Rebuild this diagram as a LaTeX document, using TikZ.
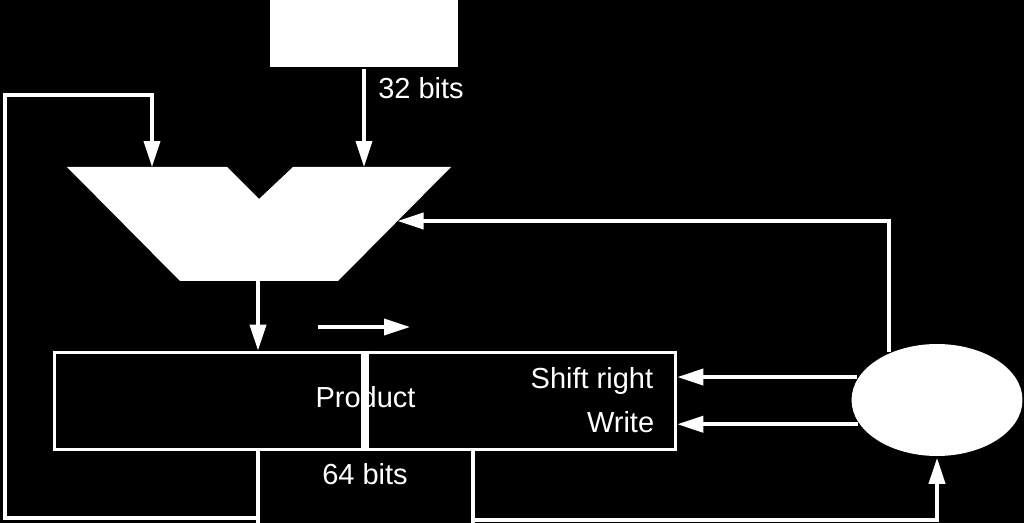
\documentclass[tikz,border=0pt]{standalone}
\usepackage{fontspec}
\setmainfont{Liberation Sans}
\usetikzlibrary{arrows.meta,shapes.geometric}

\tikzset{
	tip/.style={-{Triangle[length=0.52cm,width=0.32cm]}},
	lbl/.style={text=white, inner sep=0, font=\fontsize{16.5}{20}\selectfont},
}

\begin{document}
\begin{tikzpicture}[x=0.02cm, y=-0.02cm, line width=2.1pt, draw=white]
	\useasboundingbox (0, 0) rectangle (1024, 523);
	\fill[black] (0, 0) rectangle (1024, 523);

	\node[fill=white, minimum width=3.76cm, minimum height=1.34cm, inner sep=0] (mcand) at (364, 33.5) {};
	\node[lbl, anchor=base] (mcbits) at (421, 99) {32 bits};

	% ALU
	\fill[white] (67, 167) -- (227, 167) -- (259, 199) -- (293, 167) -- (451, 167)
		-- (338, 281) -- (180, 281) -- cycle;
	\coordinate (aluL) at (152, 167);
	\coordinate (aluR) at (364, 167);
	\coordinate (aluout) at (258, 281);
	\coordinate (alurt) at (397.5, 221);

	\node[draw=white, minimum width=12.42cm, minimum height=1.94cm, inner sep=0] (prod) at (365, 401) {};
	\node[lbl, anchor=base] (prodtxt) at (365.5, 407) {Product};
	\draw[line width=0.16cm] (prod.north) -- (prod.south);
	\node[lbl, anchor=base] (prodbits) at (365, 484) {64 bits};
	\node[lbl, anchor=base east] (shtxt) at (655, 388) {Shift right};
	\node[lbl, anchor=base east] (wrtxt) at (656, 432) {Write};

	\node[ellipse, fill=white, minimum width=3.42cm, minimum height=2.24cm, inner sep=0] (ctrl) at (937, 400) {};

	\coordinate (sh1) at (318, 327);
	\coordinate (sh2) at (410, 327);
	\coordinate (fbcorner) at (5, 95);
	\coordinate (fbend) at (258, 523);
	\coordinate (lsb) at (473, 523);
	\coordinate (lsbturn) at (473, 520);

	\draw[tip] (mcand.south) -- (aluR);
	\draw[tip] (aluout) -- (aluout |- prod.north);
	\draw[tip] (sh1) -- (sh2);

	\draw (prod.south -| fbend) -- (fbend);
	\draw[tip] (prod.south -| fbend) |- (5, 518) -- (fbcorner) -| (aluL);

	\draw[tip] (ctrl.164) -- (ctrl.164 -| prod.east);
	\draw[tip] (ctrl.197) -- (ctrl.197 -| prod.east);
	\draw[tip] (ctrl.135) |- (alurt);

	\draw (prod.south -| lsb) -- (lsb);
	\draw[tip] (lsbturn) -| (ctrl.south);
\end{tikzpicture}
\end{document}
